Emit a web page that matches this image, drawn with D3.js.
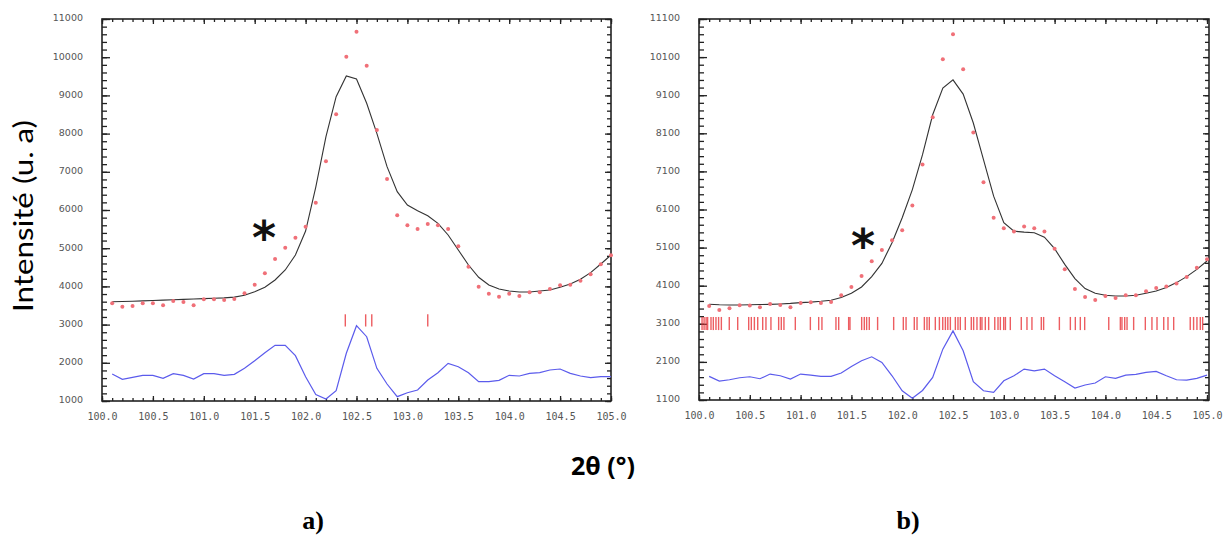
<!DOCTYPE html>
<html>
<head>
<meta charset="utf-8">
<script src="https://cdn.jsdelivr.net/npm/d3@7"></script>
<style>
  html, body { margin: 0; padding: 0; background: #fff; }
  svg { display: block; }
</style>
</head>
<body>
<svg id="chart" width="1229" height="539"></svg>
<script>
// ---------------- DATA ----------------
const twoTheta = [100.1,100.2,100.3,100.4,100.5,100.6,100.7,100.8,100.9,101.0,
  101.1,101.2,101.3,101.4,101.5,101.6,101.7,101.8,101.9,102.0,
  102.1,102.2,102.3,102.4,102.5,102.6,102.7,102.8,102.9,103.0,
  103.1,103.2,103.3,103.4,103.5,103.6,103.7,103.8,103.9,104.0,
  104.1,104.2,104.3,104.4,104.5,104.6,104.7,104.8,104.9,105.0];

// Panel a)
const obsA = [3558,3469,3487,3558,3558,3505,3618,3592,3505,3662,
  3662,3644,3670,3819,4045,4343,4717,5013,5275,5563,
  6191,7274,8505,10013,10668,9777,8094,6812,5861,5599,
  5503,5634,5599,5503,5050,4516,3992,3809,3730,3809,
  3749,3845,3845,3932,4029,4045,4149,4317,4578,4814];
const calcA = [3600,3605,3610,3620,3630,3640,3650,3660,3670,3680,
  3690,3700,3720,3767,3861,3976,4168,4430,4822,5450,
  6600,7919,8966,9508,9429,8793,8008,7134,6479,6131,
  5982,5851,5652,5346,4953,4560,4238,4037,3932,3880,
  3853,3853,3880,3906,3976,4063,4186,4360,4586,4822];
const diffA = [1707,1568,1620,1672,1672,1594,1715,1672,1576,1715,
  1715,1672,1698,1855,2055,2264,2458,2458,2186,1636,
  1170,1052,1270,2249,2971,2683,1855,1445,1113,1217,
  1288,1550,1741,1986,1898,1741,1506,1506,1541,1672,
  1654,1724,1741,1812,1838,1724,1654,1610,1636,1636];
const braggA = [102.39,102.59,102.65,103.2];

// Panel b)
const obsB = [3569,3464,3508,3587,3579,3535,3621,3595,3535,3647,
  3665,3647,3673,3849,4066,4354,4739,5035,5296,5558,
  6205,7278,8520,10045,10700,9783,8124,6815,5883,5610,
  5524,5655,5610,5524,5071,4529,4014,3804,3726,3830,
  3778,3849,3849,3953,4040,4076,4155,4328,4574,4791];
const calcB = [3613,3600,3595,3595,3600,3605,3610,3620,3635,3657,
  3670,3690,3718,3788,3901,4066,4338,4686,5228,5883,
  6623,7540,8587,9286,9503,9129,8370,7409,6450,5752,
  5532,5506,5490,5375,5071,4660,4286,4024,3901,3849,
  3830,3830,3849,3901,3961,4050,4181,4338,4529,4747];
const diffB = [1720,1597,1631,1684,1710,1658,1781,1736,1650,1781,
  1754,1720,1720,1807,1982,2129,2234,2087,1736,1343,
  1144,1350,1694,2435,2914,2391,1579,1343,1300,1605,
  1736,1911,1867,1911,1736,1579,1414,1493,1545,1710,
  1668,1754,1772,1825,1851,1736,1631,1623,1668,1754];
const braggB = [100.03,100.05,100.07,100.085,100.118,100.141,100.167,100.193,100.22,100.298,100.381,
  100.489,100.515,100.545,100.578,100.627,100.659,100.708,100.784,100.81,100.836,
  100.948,101.096,101.178,101.21,101.348,101.375,101.473,101.486,101.601,101.627,
  101.65,101.676,101.758,101.916,102.011,102.038,102.119,102.146,102.218,102.244,
  102.267,102.326,102.366,102.399,102.425,102.449,102.474,102.523,102.549,102.572,
  102.621,102.68,102.703,102.736,102.769,102.785,102.818,102.851,102.911,102.943,
  102.966,102.999,103.016,103.064,103.172,103.228,103.277,103.369,103.392,103.547,
  103.655,103.704,103.753,103.796,104.033,104.147,104.163,104.19,104.213,104.278,
  104.393,104.458,104.508,104.574,104.616,104.672,104.835,104.868,104.901,104.934,104.957];

// Tick labels
const xTickLabels = [100.0,100.5,101.0,101.5,102.0,102.5,103.0,103.5,104.0,104.5,105.0];
const yTicksA = [1000,2000,3000,4000,5000,6000,7000,8000,9000,10000,11000];
const yTicksB = [1100,2100,3100,4100,5100,6100,7100,8100,9100,10100,11100];

// ---------------- DRAW ----------------
const svg = d3.select("#chart");

function panel(cfg) {
  const x = d3.scaleLinear().domain([100, 105]).range([cfg.x0, cfg.x1]);
  const y = d3.scaleLinear().domain(cfg.yDomain).range([cfg.yB, cfg.yT]);
  const g = svg.append("g");

  const minorX = d3.range(100, 105.0001, 0.1);
  const minorY = d3.range(cfg.yDomain[0], cfg.yDomain[1] + 1, 200);

  function clean(sel) { sel.select(".domain").remove(); sel.selectAll("line").attr("stroke", "#222").attr("stroke-width", 1.3); }

  // bottom
  g.append("g").attr("transform", `translate(0,${cfg.yB})`)
    .call(d3.axisBottom(x).tickValues(minorX).tickSize(-3).tickFormat("")).call(clean);
  const bx = g.append("g").attr("transform", `translate(0,${cfg.yB})`)
    .call(d3.axisBottom(x).tickValues(xTickLabels).tickSize(-5).tickPadding(12).tickFormat(d3.format(".1f")));
  clean(bx);
  bx.selectAll("text").attr("font-family", "DejaVu Sans Mono").attr("font-size", 10).attr("fill", "#555");
  // top
  g.append("g").attr("transform", `translate(0,${cfg.yT})`)
    .call(d3.axisTop(x).tickValues(minorX).tickSize(-3).tickFormat("")).call(clean);
  g.append("g").attr("transform", `translate(0,${cfg.yT})`)
    .call(d3.axisTop(x).tickValues(xTickLabels).tickSize(-5).tickFormat("")).call(clean);
  // left
  g.append("g").attr("transform", `translate(${cfg.x0},0)`)
    .call(d3.axisLeft(y).tickValues(minorY).tickSize(-5).tickFormat("")).call(clean);
  const ly = g.append("g").attr("transform", `translate(${cfg.x0},0)`)
    .call(d3.axisLeft(y).tickValues(cfg.yTicks).tickSize(-8).tickPadding(19).tickFormat(d3.format("d")));
  clean(ly);
  ly.selectAll("text").attr("font-family", "DejaVu Sans").attr("font-size", 9.5).attr("fill", "#555").attr("dy", "0.2em");
  // right
  g.append("g").attr("transform", `translate(${cfg.frameR},0)`)
    .call(d3.axisRight(y).tickValues(minorY).tickSize(-4).tickFormat("")).call(clean);
  g.append("g").attr("transform", `translate(${cfg.frameR},0)`)
    .call(d3.axisRight(y).tickValues(cfg.yTicks).tickSize(-6).tickFormat("")).call(clean);

  // frame
  g.append("rect").attr("x", cfg.x0).attr("y", cfg.yT)
    .attr("width", cfg.frameR - cfg.x0).attr("height", cfg.yB - cfg.yT)
    .attr("fill", "none").attr("stroke", "#222").attr("stroke-width", 1.6);

  // Bragg ticks
  g.append("g").selectAll("line").data(cfg.bragg).join("line")
    .attr("x1", d => x(d)).attr("x2", d => x(d))
    .attr("y1", y(cfg.braggRange[0])).attr("y2", y(cfg.braggRange[1]))
    .attr("stroke", "#e8353a").attr("stroke-opacity", 0.8).attr("stroke-width", 1.4);

  // difference curve
  const line = d3.line().x((d, i) => x(twoTheta[i])).y(d => y(d));
  g.append("path").datum(cfg.diff).attr("d", line)
    .attr("fill", "none").attr("stroke", "#5b5bec").attr("stroke-width", 1.2);
  // calculated curve
  g.append("path").datum(cfg.calc).attr("d", line)
    .attr("fill", "none").attr("stroke", "#333").attr("stroke-width", 1.1);
  // observed points
  g.append("g").selectAll("circle").data(cfg.obs).join("circle")
    .attr("cx", (d, i) => x(twoTheta[i])).attr("cy", d => y(d)).attr("r", 2)
    .attr("fill", "#f07078");

  // asterisk
  g.append("text").attr("x", cfg.star[0]).attr("y", cfg.star[1])
    .attr("text-anchor", "middle").attr("font-family", "DejaVu Sans").attr("font-weight", "bold")
    .attr("font-size", 46).attr("fill", "#111").text("*");

  // caption
  g.append("text").attr("x", cfg.cap[0]).attr("y", cfg.cap[1]).attr("text-anchor", "middle")
    .attr("font-family", "Liberation Serif").attr("font-weight", "bold").attr("font-size", 26)
    .attr("fill", "#000").text(cfg.caption);
}

panel({ x0: 102, x1: 611, frameR: 611, yT: 19, yB: 401, yDomain: [1000, 11000], yTicks: yTicksA,
  obs: obsA, calc: calcA, diff: diffA, bragg: braggA, braggRange: [2950, 3270],
  star: [264, 254], cap: [313, 529], caption: "a)" });
panel({ x0: 699, x1: 1207, frameR: 1209, yT: 19, yB: 400, yDomain: [1100, 11100], yTicks: yTicksB,
  obs: obsB, calc: calcB, diff: diffB, bragg: braggB, braggRange: [2935, 3280],
  star: [863, 262], cap: [908, 529], caption: "b)" });

// Axis titles
svg.append("text").attr("transform", "translate(33,216) rotate(-90)")
  .attr("text-anchor", "middle").attr("font-family", "Lato").attr("font-size", 27)
  .attr("textLength", 192).attr("lengthAdjust", "spacingAndGlyphs")
  .attr("fill", "#000").text("Intensité (u. a)");
svg.append("text").attr("x", 603).attr("y", 475).attr("text-anchor", "middle")
  .attr("font-family", "Open Sans").attr("font-weight", "bold").attr("font-size", 25)
  .attr("fill", "#000").text("2θ (°)");
</script>
</body>
</html>
